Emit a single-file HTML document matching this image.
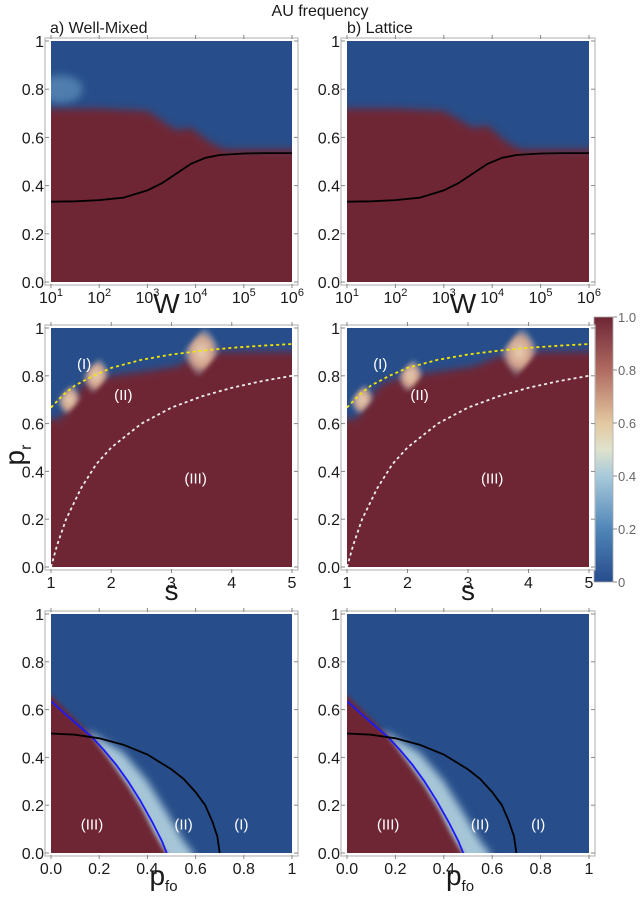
<!DOCTYPE html>
<html><head><meta charset="utf-8"><style>
body{margin:0;background:#fff;width:640px;height:895px;overflow:hidden}
svg text{font-family:"Liberation Sans",sans-serif;fill:#1a1a1a}
</style></head><body>
<svg id="fig" width="640" height="895" viewBox="0 0 640 895">
<defs>
<filter id="blur" x="-20%" y="-20%" width="140%" height="140%"><feGaussianBlur stdDeviation="4"/></filter>
<filter id="blurS" x="-20%" y="-20%" width="140%" height="140%"><feGaussianBlur stdDeviation="2"/></filter>
<filter id="blur2" x="-50%" y="-50%" width="200%" height="200%"><feGaussianBlur stdDeviation="4"/></filter>
<linearGradient id="cbar" x1="0" y1="1" x2="0" y2="0">
<stop offset="0" stop-color="#274c8c"/><stop offset="0.2" stop-color="#4f86b8"/><stop offset="0.4" stop-color="#a8cadb"/>
<stop offset="0.5" stop-color="#dfe2cc"/><stop offset="0.6" stop-color="#e3c8a0"/><stop offset="0.8" stop-color="#b06a60"/><stop offset="1" stop-color="#6e2636"/>
</linearGradient>
<radialGradient id="spotg"><stop offset="0" stop-color="#f0d8b8"/><stop offset="0.55" stop-color="#d8a890"/><stop offset="1" stop-color="#8aa6c8" stop-opacity="0"/></radialGradient>
</defs>
<text x="320" y="16" font-size="16" text-anchor="middle">AU frequency</text>
<text x="50" y="33" font-size="16">a) Well-Mixed</text>
<text x="347" y="33" font-size="16">b) Lattice</text>
<g id="cb">
<rect x="594" y="317" width="19" height="265" fill="url(#cbar)" stroke="#aaa" stroke-width="0.8"/>
</g>
</svg>
<script>
// ---- data ----
const wTicks = [1,2,3,4,5,6];
const sTicks = [1,2,3,4,5];
const pTicks = [0,0.2,0.4,0.6,0.8,1];
const yTicks = [0,0.2,0.4,0.6,0.8,1];
const yTickLabels = ["0.0","0.2","0.4","0.6","0.8","1"];
const pTickLabels = ["0.0","0.2","0.4","0.6","0.8","1"];
const cbTicks = [0,0.2,0.4,0.6,0.8,1];
const cbLabels = ["0","0.2","0.4","0.6","0.8","1.0"];
// row 1: log10 W, red-region top boundary
const r1X = [1,2,3,3.6,3.9,4.3,4.6,6];
const r1TopA = [0.72,0.72,0.71,0.63,0.64,0.58,0.55,0.55];
const r1TopB = [0.72,0.72,0.71,0.64,0.65,0.58,0.55,0.55];
const r1CurveX = [1,1.5,2,2.5,3,3.3,3.6,3.9,4.2,4.5,5,5.5,6];
const r1CurveY = [0.333,0.335,0.34,0.35,0.38,0.41,0.45,0.49,0.515,0.527,0.533,0.535,0.535];
// row 2: s, red top boundary
const r2X = [1,1.15,1.4,1.6,2.0,2.6,3.1,3.5,4,5];
const r2TopA = [0.62,0.62,0.72,0.78,0.8,0.82,0.84,0.9,0.9,0.9];
const r2TopB = [0.62,0.62,0.72,0.77,0.8,0.82,0.84,0.88,0.9,0.9];
const r2YellowX = [1,1.2,1.4,1.7,2,2.5,3,3.5,4,4.5,5];
const r2YellowY = [0.667,0.72,0.76,0.80,0.833,0.867,0.889,0.905,0.917,0.926,0.933];
const r2WhiteX = [1,1.1,1.25,1.5,1.75,2,2.5,3,3.5,4,4.5,5];
const r2WhiteY = [0,0.09,0.2,0.33,0.43,0.5,0.6,0.667,0.714,0.75,0.778,0.8];
const r2SpotsA = [[1.3,0.7,0.7],[1.75,0.8,0.8],[3.5,0.9,1.1]];
const r2SpotsB = [[1.25,0.7,0.7],[2.05,0.8,0.75],[3.85,0.9,1.1]];
// row 3: p_fo, red boundary and curves
const r3RedX = [0,0.1,0.17,0.25,0.32,0.38,0.43,0.47,0.48];
const r3RedY = [0.66,0.56,0.49,0.38,0.28,0.18,0.08,0.01,0];
const r3BandX = [0,0.17,0.3,0.4,0.48,0.55,0.59];
const r3BandY = [0.5,0.5,0.42,0.3,0.17,0.05,0];
const r3BlueX = [0,0.05,0.1,0.17,0.22,0.27,0.32,0.37,0.42,0.46,0.48];
const r3BlueY = [0.635,0.59,0.545,0.485,0.43,0.37,0.3,0.22,0.13,0.05,0];
const r3BlackX = [0,0.1,0.2,0.3,0.4,0.5,0.55,0.6,0.64,0.67,0.69,0.7];
const r3BlackY = [0.5,0.495,0.48,0.453,0.412,0.35,0.31,0.255,0.2,0.13,0.07,0];

const NS="http://www.w3.org/2000/svg";
const svg=document.getElementById('fig');
const RED="#6e2636", BLUE="#274e8a";
function el(tag,attrs,parent){const e=document.createElementNS(NS,tag);for(const k in attrs)e.setAttribute(k,attrs[k]);(parent||svg).appendChild(e);return e;}

function panel(name,x0,y0,x1,y1,xmin,xmax){
  const g=el('g',{});
  
  
  const sx=v=>x0+(v-xmin)/(xmax-xmin)*(x1-x0);
  const sy=v=>y1-v*(y1-y0);
  el('rect',{x:x0-6,y:y0-3,width:x1-x0+12,height:y1-y0+6,fill:'#fff',stroke:'#bbb','stroke-width':1.2},g);
  const cid='c'+name;
  const cp=el('clipPath',{id:cid},g);
  el('rect',{x:x0,y:y0,width:x1-x0,height:y1-y0},cp);
  const inner=el('g',{'clip-path':'url(#'+cid+')'},g);
  return {g,inner,sx,sy,x0,x1,y0,y1};
}
function line(P,xs,ys,attrs,name){
  const d=xs.map((v,i)=>(i?'L':'M')+P.sx(v).toFixed(1)+','+P.sy(ys[i]).toFixed(1)).join('');
  const p=el('path',Object.assign({d,fill:'none'},attrs),P.inner);
  
  
}
function ticks(P,xv,xl,yv,yl,xfmt){
  for(let i=0;i<yv.length;i++){
    const y=P.sy(yv[i]);
    el('line',{x1:P.x0-6,x2:P.x0-2,y1:y,y2:y,stroke:'#888'},P.g);
    el('line',{x1:P.x1+2,x2:P.x1+6,y1:y,y2:y,stroke:'#888'},P.g);
    const t=el('text',{x:P.x0-7,y:y+6,'font-size':16,'text-anchor':'end'},P.g);t.textContent=yl[i];
    
    
  }
  for(let i=0;i<xv.length;i++){
    const x=P.sx(xv[i]);
    el('line',{x1:x,x2:x,y1:P.y1+2,y2:P.y1+6,stroke:'#888'},P.g);
    el('line',{x1:x,x2:x,y1:P.y0-6,y2:P.y0-2,stroke:'#888'},P.g);
    const t=el('text',{x:x,y:P.y1+21,'font-size':16,'text-anchor':'middle'},P.g);
    
    
    if(xfmt==='log'){t.textContent='10';const s=el('tspan',{dy:-7,'font-size':11},t);s.textContent=xl[i];}
    else t.textContent=xl[i];
  }
}
function regionPoly(P,xs,ys,xmin,xmax,color,filter){
  let pts=[[P.sx(xmin)-10,P.y1+10]];
  xs.forEach((v,i)=>pts.push([P.sx(v),P.sy(ys[i])]));
  pts[1][0]-=10; pts[pts.length-1][0]+=10;
  pts.push([P.sx(xmax)+10,P.y1+10]);
  return el('polygon',{points:pts.map(p=>p.join(',')).join(' '),fill:color,filter:filter||'url(#blur)'},P.inner);
}
function cornerPoly(P,xs,ys,color,filter){
  let pts=[[P.x0-10,P.y1+10],[P.x0-10,P.sy(ys[0])]];
  xs.forEach((v,i)=>pts.push([P.sx(v),P.sy(ys[i])]));
  pts.push([P.sx(xs[xs.length-1]),P.y1+10]);
  return el('polygon',{points:pts.map(p=>p.join(',')).join(' '),fill:color,filter:filter},P.inner);
}
function spot(P,x,y,sc,name){
  const cx=P.sx(x),cy=P.sy(y);
  const w=18*sc,h=24*sc;
  const s=el('polygon',{points:`${cx+4},${cy-h} ${cx+w},${cy-2} ${cx-4},${cy+h} ${cx-w},${cy+2}`,fill:'url(#spotg)',opacity:0.95,filter:'url(#blurS)'},P.inner);
  
  
}
function label(P,x,y,txt){
  const t=el('text',{x:P.sx(x),y:P.sy(y)+5,'font-size':15,'text-anchor':'middle',style:'fill:#fff'},P.inner);
  t.textContent=txt;
  
  
}

// Row 1
[[51,292,r1TopA,'a'],[347,589,r1TopB,'b']].forEach(([x0,x1,top,k])=>{
  const P=panel('panel-w-'+k,x0,41,x1,282,1,6);
  el('rect',{x:x0,y:41,width:x1-x0,height:241,fill:BLUE},P.inner);
  const r=regionPoly(P,r1X,top,1,6,RED);
  
  
  if(k==='a'){const s=el('ellipse',{cx:P.sx(1.2),cy:P.sy(0.8),rx:22,ry:14,fill:'#6fa4cc',opacity:0.55,filter:'url(#blur2)'},P.inner);
    
    }
  line(P,r1CurveX,r1CurveY,{stroke:'#000','stroke-width':1.8},'threshold-curve');
  ticks(P,wTicks,wTicks,yTicks,yTickLabels,'log');
  const t=el('text',{x:(x0+x1)/2-5,y:313,'font-size':28,'text-anchor':'middle'},P.g);t.textContent='W';
  
  
});
// Row 2
[[51,292,r2TopA,r2SpotsA,'a'],[347,589,r2TopB,r2SpotsB,'b']].forEach(([x0,x1,top,spots,k])=>{
  const P=panel('panel-s-'+k,x0,328,x1,567,1,5);
  el('rect',{x:x0,y:328,width:x1-x0,height:239,fill:BLUE},P.inner);
  const r=regionPoly(P,r2X,top,1,5,RED);
  
  
  spots.forEach(s=>spot(P,s[0],s[1],s[2],'transition-spot'));
  line(P,r2YellowX,r2YellowY,{stroke:'#f2e600','stroke-width':1.8,'stroke-dasharray':'3,3'},'yellow-dashed-curve');
  line(P,r2WhiteX,r2WhiteY,{stroke:'#eee','stroke-width':1.8,'stroke-dasharray':'3,3'},'white-dashed-curve');
  label(P,1.55,0.85,'(I)');label(P,2.2,0.72,'(II)');label(P,3.4,0.37,'(III)');
  ticks(P,sTicks,sTicks,yTicks,yTickLabels);
  const t=el('text',{x:(x0+x1)/2,y:600,'font-size':28,'text-anchor':'middle'},P.g);t.textContent='s';
  
  
});
// Row 3
['a','b'].forEach((k,i)=>{
  const x0=i?347:51,x1=i?589:292;
  const P=panel('panel-pfo-'+k,x0,614,x1,853,0,1);
  el('rect',{x:x0,y:614,width:x1-x0,height:239,fill:BLUE},P.inner);
  const b=cornerPoly(P,r3BandX,r3BandY,'#a6c6d8','url(#blur)');
  
  
  const r=cornerPoly(P,r3RedX,r3RedY,RED,'url(#blurS)');
  
  
  line(P,r3BlueX,r3BlueY,{stroke:'#1a1aff','stroke-width':1.8},'blue-curve');
  line(P,r3BlackX,r3BlackY,{stroke:'#000','stroke-width':1.8},'black-curve');
  label(P,0.17,0.12,'(III)');label(P,0.55,0.12,'(II)');label(P,0.79,0.12,'(I)');
  ticks(P,pTicks,pTickLabels,yTicks,yTickLabels);
  const t=el('text',{x:(x0+x1)/2-8,y:885,'font-size':28,'text-anchor':'middle'},P.g);t.textContent='p';
  const s=el('tspan',{dy:6,'font-size':15},t);s.textContent='fo';
  
  
});
// y title
const yt=el('text',{x:0,y:0,'font-size':28,transform:'translate(24,455) rotate(-90)','text-anchor':'middle'});
yt.textContent='p';const ys=el('tspan',{dy:7,'font-size':16},yt);ys.textContent='r';


// colorbar ticks
const cb=document.getElementById('cb');
cbTicks.forEach((v,i)=>{
  const y=582-v*265;
  el('line',{x1:613,x2:617,y1:y,y2:y,stroke:'#888'},cb);
  const t=el('text',{x:618,y:y+5,'font-size':13,style:'fill:#666'},cb);t.textContent=cbLabels[i];
  
  
});
</script>
</body></html>
